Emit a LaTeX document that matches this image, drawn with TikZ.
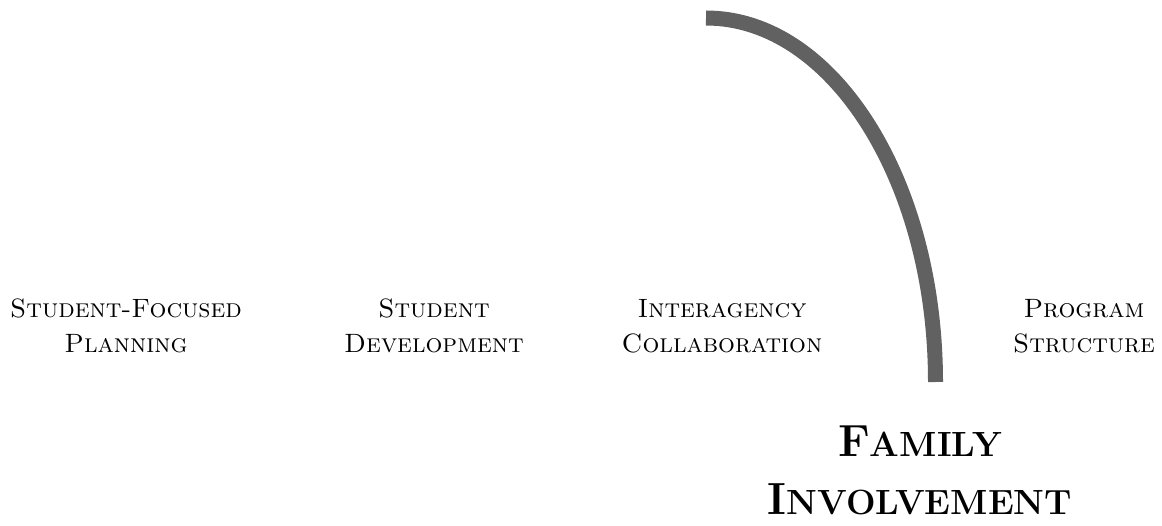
\documentclass[tikz,border=0pt]{standalone}
\usepackage{tikz}
\usetikzlibrary{positioning}
\usepackage{xcolor}
\definecolor{arcGray}{RGB}{97,97,97}

\begin{document}
\begin{tikzpicture}[
    x=1pt, y=1pt,
    area/.style={align=center, inner sep=0pt, font=\fontsize{26.5}{35}\selectfont\scshape},
    focus/.style={align=center, inner sep=0pt, font=\fontsize{45}{58}\selectfont\bfseries},
    band/.style={line width=15pt, draw=arcGray}
]
\useasboundingbox (0,0) rectangle (1162,525);

% Practice areas
\node[area] (planning) at (126,199) {Student-Focused\\Planning};
\node[area] (development) at (434,199) {Student\\Development};
\node[area] (collaboration) at (722,199) {Interagency\\Collaboration};
\node[area] (structure) at (1084,199) {Program\\Structure};

% Highlighted area
\node[focus] (family) at (920,55) {F{\fontsize{35}{58}\selectfont AMILY}\\I{\fontsize{35}{58}\selectfont NVOLVEMENT}};

% Arc down to the highlighted area
\coordinate (arcTop) at (706,507);
\draw[band] (arcTop) arc[start angle=90, end angle=0, x radius=229.5pt, y radius=364pt];

\end{tikzpicture}
\end{document}
